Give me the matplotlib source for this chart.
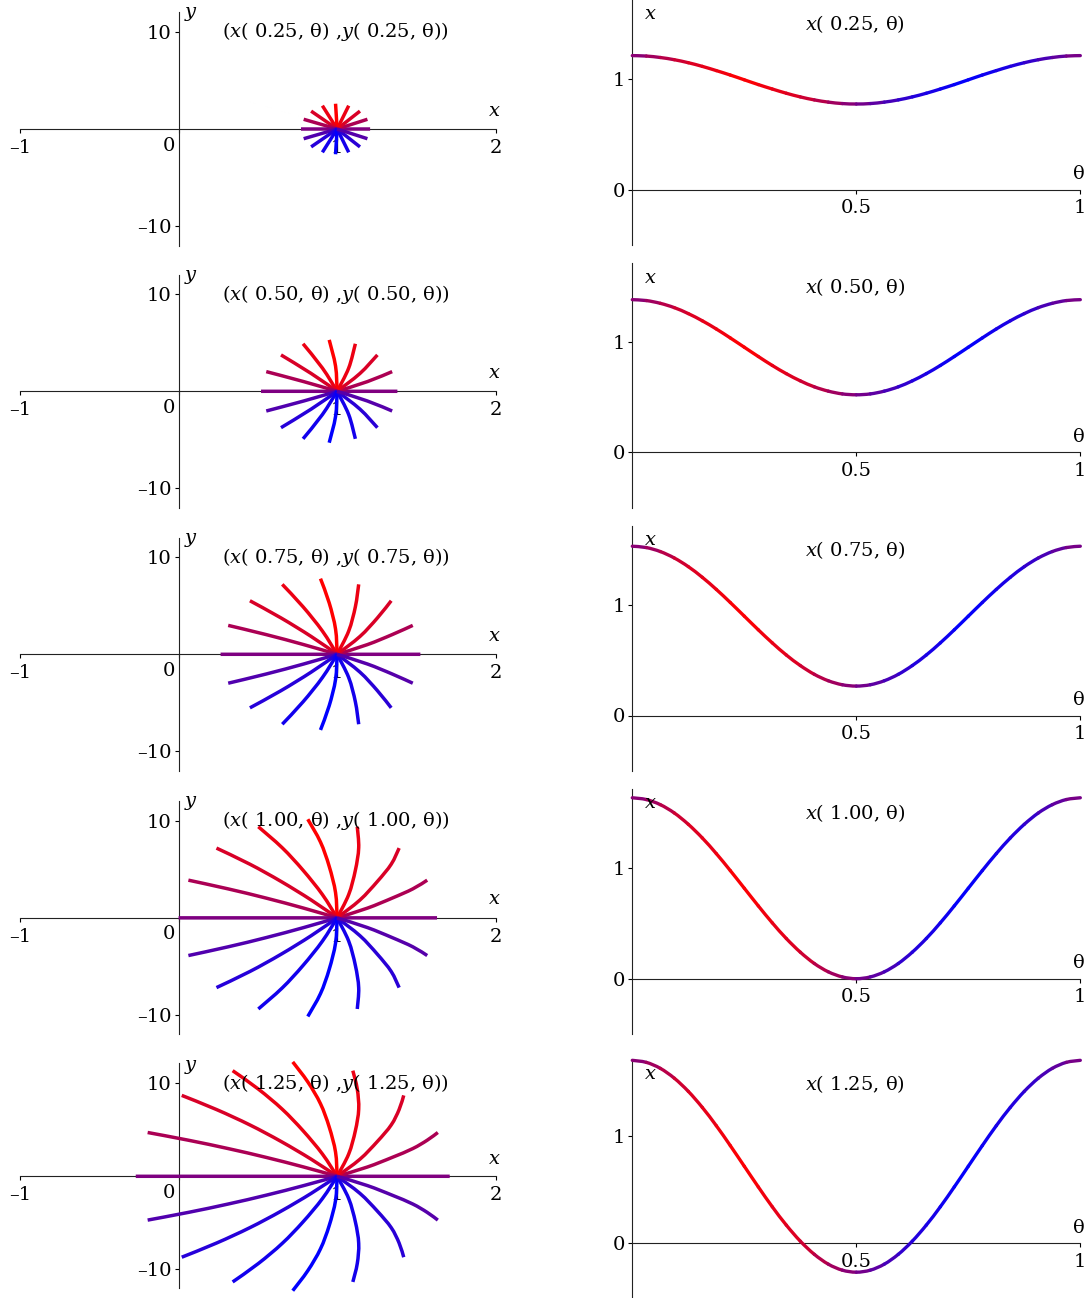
import numpy as np
import matplotlib.pyplot as plt
from matplotlib.colors import LinearSegmentedColormap
from matplotlib.path import Path
from matplotlib.patches import PathPatch

plt.rcParams['font.family'] = 'DejaVu Serif'
plt.rcParams['mathtext.fontset'] = 'dejavuserif'
plt.rcParams['font.size'] = 14

# ---- data ----
t_labels = ['0.25', '0.50', '0.75', '1.00', '1.25']

# theta grid for the right-hand curves (0 .. 1 in steps of 1/32)
theta_grid = np.linspace(0, 1, 33)

# x(t, theta) on theta_grid, one list per t
x_t025 = [1.208, 1.204, 1.191, 1.171, 1.144, 1.111, 1.073, 1.033, 0.990, 0.947, 0.907,
          0.869, 0.836, 0.809, 0.789, 0.776, 0.772, 0.776, 0.789, 0.809, 0.836, 0.869,
          0.907, 0.947, 0.990, 1.033, 1.073, 1.111, 1.144, 1.171, 1.191, 1.204, 1.208]
x_t050 = [1.380, 1.372, 1.347, 1.308, 1.254, 1.189, 1.115, 1.034, 0.950, 0.866, 0.785,
          0.711, 0.646, 0.592, 0.553, 0.528, 0.520, 0.528, 0.553, 0.592, 0.646, 0.711,
          0.785, 0.866, 0.950, 1.034, 1.115, 1.189, 1.254, 1.308, 1.347, 1.372, 1.380]
x_t075 = [1.525, 1.513, 1.477, 1.419, 1.341, 1.245, 1.136, 1.018, 0.895, 0.772, 0.654,
          0.545, 0.450, 0.371, 0.313, 0.277, 0.265, 0.277, 0.313, 0.371, 0.450, 0.545,
          0.654, 0.772, 0.895, 1.018, 1.136, 1.245, 1.341, 1.419, 1.477, 1.513, 1.525]
x_t100 = [1.630, 1.614, 1.568, 1.493, 1.391, 1.268, 1.127, 0.974, 0.815, 0.656, 0.503,
          0.362, 0.239, 0.137, 0.062, 0.016, 0.000, 0.016, 0.062, 0.137, 0.239, 0.362,
          0.503, 0.656, 0.815, 0.974, 1.127, 1.268, 1.391, 1.493, 1.568, 1.614, 1.630]
x_t125 = [1.710, 1.691, 1.635, 1.543, 1.420, 1.270, 1.099, 0.913, 0.720, 0.527, 0.341,
          0.170, 0.020, -0.103, -0.195, -0.251, -0.270, -0.251, -0.195, -0.103, 0.020, 0.170,
          0.341, 0.527, 0.720, 0.913, 1.099, 1.270, 1.420, 1.543, 1.635, 1.691, 1.710]

# y(t, theta) at the 16 spoke angles theta = 0, 1/16, ..., 15/16
y_t025 = [0, 1.00, 1.84, 2.40, 2.60, 2.40, 1.84, 1.00, 0, -1.00, -1.84, -2.40, -2.60, -2.40, -1.84, -1.00]
y_t050 = [0, 2.03, 3.75, 4.90, 5.30, 4.90, 3.75, 2.03, 0, -2.03, -3.75, -4.90, -5.30, -4.90, -3.75, -2.03]
y_t075 = [0, 2.98, 5.52, 7.21, 7.80, 7.21, 5.52, 2.98, 0, -2.98, -5.52, -7.21, -7.80, -7.21, -5.52, -2.98]
y_t100 = [0, 3.88, 7.18, 9.38, 10.15, 9.38, 7.18, 3.88, 0, -3.88, -7.18, -9.38, -10.15, -9.38, -7.18, -3.88]
y_t125 = [0, 4.71, 8.70, 11.36, 12.30, 11.36, 8.70, 4.71, 0, -4.71, -8.70, -11.36, -12.30, -11.36, -8.70, -4.71]

# all spokes start here at t = 0
start_x, start_y = 1.0, 0.0

x_rows = [x_t025, x_t050, x_t075, x_t100, x_t125]
y_rows = [y_t025, y_t050, y_t075, y_t100, y_t125]
theta_spokes = theta_grid[::2][:16]

# ---- style / layout ----
rb_cmap = LinearSegmentedColormap.from_list('rb', [
    (0.0, (0.5, 0, 0.5)), (0.125, (0.85, 0, 0.15)), (0.25, (1, 0, 0)),
    (0.375, (0.85, 0, 0.15)), (0.5, (0.5, 0, 0.5)), (0.625, (0.15, 0, 0.85)),
    (0.75, (0, 0, 1)), (0.875, (0.15, 0, 0.85)), (1.0, (0.5, 0, 0.5))])

W, H = 1087, 1298
fig = plt.figure(figsize=(W / 100, H / 100), dpi=100)

# pixel row geometry: where y = 0 sits and px per unit
left_zero = [129.0, 391.3, 654.3, 917.85, 1176.3]
left_scale = [9.72, 9.7, 9.7, 9.715, 9.3]
left_ylim = [(-12, 12), (-12, 12), (-12, 12), (-12, 12), (-12, 12.2)]
right_zero = [189.7, 452.3, 715.5, 978.7, 1243.3]
right_scale = [111, 110.6, 111, 111, 107]
right_ylim = (-0.5, 1.71)
MINUS = '\u2013'


def add_axes_px(x0, x1, y_top, y_bot):
    return fig.add_axes([x0 / W, 1 - y_bot / H, (x1 - x0) / W, (y_bot - y_top) / H])


def style_axes(ax):
    for side in ['top', 'right']:
        ax.spines[side].set_visible(False)
    ax.spines['left'].set_position(('data', 0))
    ax.spines['bottom'].set_position(('data', 0))
    for side in ['left', 'bottom']:
        ax.spines[side].set_linewidth(0.8)
        ax.spines[side].set_color('#222222')
    ax.patch.set_visible(False)
    ax.tick_params(axis='x', direction='out', length=3, width=0.8, pad=4)
    ax.tick_params(axis='y', direction='out', length=3, width=0.8, pad=2)


def bezier_pieces(xs, ys):
    # smooth drawing through the read points (Catmull-Rom as cubic Bezier)
    P = np.column_stack([xs, ys]).astype(float)
    n = len(P)
    pieces = []
    for j in range(n - 1):
        prev = P[j - 1] if j > 0 else P[j]
        nxt = P[j + 2] if j + 2 < n else P[j + 1]
        c1 = P[j] + (P[j + 1] - prev) / 6
        c2 = P[j + 1] - (nxt - P[j]) / 6
        pieces.append([P[j], c1, c2, P[j + 1]])
    return pieces


def smooth_path(xs, ys):
    pieces = bezier_pieces(xs, ys)
    verts = [pieces[0][0]]
    codes = [Path.MOVETO]
    for p in pieces:
        verts += p[1:]
        codes += [Path.CURVE4] * 3
    return Path(verts, codes)


for i in range(5):
    # left: spokes (x(s, theta), y(s, theta)) for s up to t
    lo, hi = left_ylim[i]
    ax = add_axes_px(20, 495.7, left_zero[i] - hi * left_scale[i], left_zero[i] - lo * left_scale[i])
    style_axes(ax)
    ax.set_xlim(-1, 2)
    ax.set_ylim(lo, hi)
    ax.set_xticks([-1, 0, 1, 2])
    ax.set_xticklabels([MINUS + '1', '', '1', '2'])
    ax.set_yticks([-10, 10])
    ax.set_yticklabels([MINUS + '10', '10'])
    ax.annotate('0', (0, 0), xytext=(-2.5, -5.5), textcoords='offset points',
                ha='right', va='top')
    for k, th in enumerate(theta_spokes):
        xs = [start_x] + [x_rows[j][2 * k] for j in range(i + 1)]
        ys = [start_y] + [y_rows[j][k] for j in range(i + 1)]
        ax.add_patch(PathPatch(smooth_path(xs, ys), facecolor='none', edgecolor=rb_cmap(th),
                               lw=2.5, capstyle='butt', joinstyle='round', zorder=3,
                               clip_on=False))
    ax.text(1.99, 1.9, '$x$', ha='center', va='center')
    ax.text(0.08, 11.8, '$y$', ha='center', va='center')
    ax.text(0.99, 10.0, '($x$( %s, θ) ,$y$( %s, θ))' % (t_labels[i], t_labels[i]),
            ha='center', va='center')

    # right: x(t, theta) against theta
    ax2 = add_axes_px(632.3, 1080.3, right_zero[i] - right_ylim[1] * right_scale[i],
                      right_zero[i] - right_ylim[0] * right_scale[i])
    style_axes(ax2)
    ax2.set_xlim(0, 1)
    ax2.set_ylim(*right_ylim)
    ax2.set_xticks([0.5, 1])
    ax2.set_xticklabels(['0.5', '1'])
    ax2.set_yticks([0, 1])
    ax2.set_yticklabels(['0', '1'])
    mids = (theta_grid[:-1] + theta_grid[1:]) / 2
    for p, m in zip(bezier_pieces(theta_grid, x_rows[i]), mids):
        seg = Path(p, [Path.MOVETO, Path.CURVE4, Path.CURVE4, Path.CURVE4])
        ax2.add_patch(PathPatch(seg, facecolor='none', edgecolor=rb_cmap(m), lw=2.4,
                                capstyle='round', zorder=3, clip_on=False))
    ax2.text(0.04, 1.58, '$x$', ha='center', va='center')
    ax2.text(0.997, 0.14, 'θ', ha='center', va='center')
    ax2.text(0.497, 1.49, '$x$( %s, θ)' % t_labels[i], ha='center', va='center')

fig.savefig('out.png', dpi=100)
